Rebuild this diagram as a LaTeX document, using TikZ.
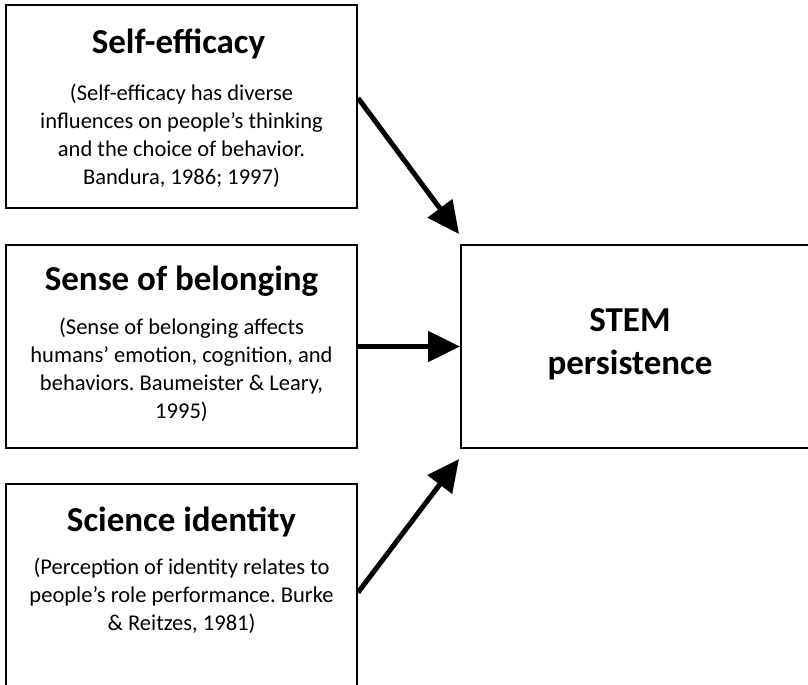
\documentclass[tikz,border=0pt]{standalone}
\usepackage{fontspec}
\setmainfont{Carlito}
\frenchspacing
\usetikzlibrary{arrows.meta,calc,positioning}
\tikzset{
  box/.style={draw, line width=1.5pt, minimum width=263.25pt, minimum height=152.25pt, inner sep=0pt},
  title/.style={font=\fontsize{26.25pt}{32pt}\selectfont\bfseries, inner sep=0pt},
  body/.style={font=\fontsize{16.9pt}{21pt}\selectfont, align=center, inner sep=0pt},
  conn/.style={line width=3.75pt, -{Triangle[length=24pt,width=22.5pt]}}
}
\begin{document}
\begin{tikzpicture}[x=0.75pt, y=-0.75pt]
            \useasboundingbox (0, 0) rectangle (808, 685);
            \clip (0, 0) rectangle (808, 685);
            \node[box] (eff) at (181.5, 107) {};
            \node[box] (bel) at (181.5, 346.5) {};
            \node[box] (iden) at (181.5, 585.5) {};
            \node[box, minimum width=270pt] (stem) at (641, 346.5) {};
            \node[title, anchor=base] (efft) at ($(eff.north)+(-3, 49)$) {Self-efficacy};
            \node[body, anchor=north] (effb) at ($(eff.north)+(0, 79)$) {(Self-efficacy has diverse\\influences on people’s thinking\\and the choice of behavior.\\Bandura, 1986; 1997)};
            \node[title, anchor=base] (belt) at ($(bel.north)+(0, 47)$) {Sense of belonging};
            \node[body, anchor=north] (belb) at ($(bel.north)+(0, 74)$) {(Sense of belonging affects\\humans’ emotion, cognition, and\\behaviors. Baumeister \& Leary,\\1995)};
            \node[title, anchor=base] (ident) at ($(iden.north)+(0, 48)$) {Science identity};
            \node[body, anchor=north] (idenb) at ($(iden.north)+(0, 75)$) {(Perception of identity relates to\\people’s role performance. Burke\\\& Reitzes, 1981)};
            \node[title, align=center, font=\fontsize{26.25pt}{32.25pt}\selectfont\bfseries] (stemt) at (630, 344) {STEM\\persistence};
            \draw[conn] ($(eff.east)+(0, -9)$) -- ($(stem.north west)+(-1, -10)$);
            \draw[conn] (bel.east) -- (stem.west |- bel.east);
            \draw[conn] ($(iden.east)+(0, 7)$) -- ($(stem.south west)+(-1, 10)$);
        \end{tikzpicture}
\end{document}
